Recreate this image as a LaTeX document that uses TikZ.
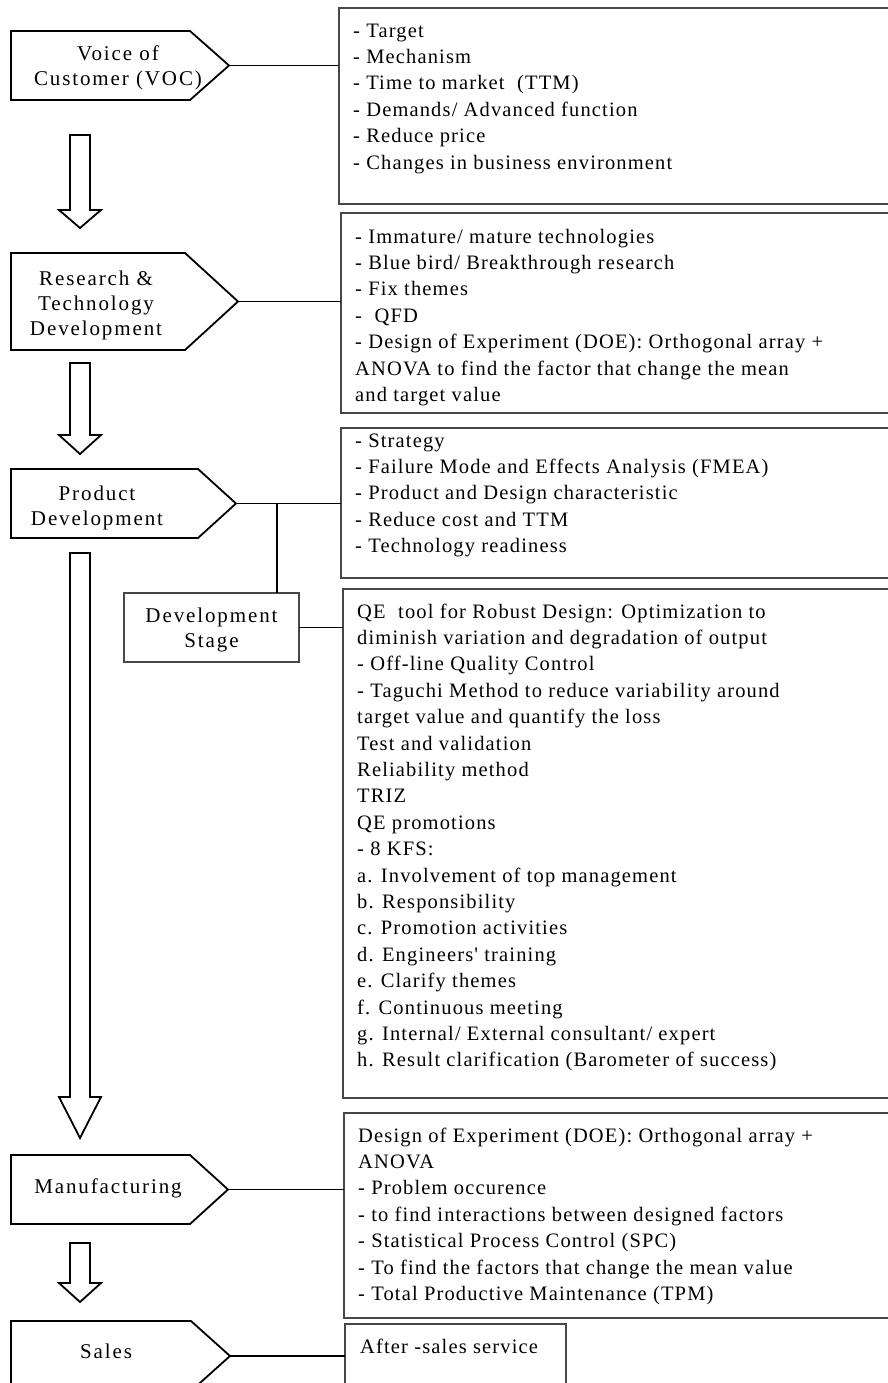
\documentclass[tikz,border=0pt]{standalone}
\usepackage{fontspec}
\setmainfont{Liberation Serif}
\newfontfamily\boxfont{Liberation Serif}[LetterSpace=5.6]
\newfontfamily\stagefont{Liberation Serif}[LetterSpace=9]
\newcommand{\infofont}{\boxfont\fontsize{20.5}{26.4}\selectfont}
\newcommand{\labelfont}{\stagefont\fontsize{21}{25}\selectfont}
\usetikzlibrary{calc}

% Text nodes start with a strut, so a node's top edge lies one strut height
% (0.7 baselineskip) above the baseline of its first line.
\tikzset{
  stageframe/.style={draw=black, line width=1.8pt, line join=miter},
  stagearea/.style={rectangle, inner sep=0, outer sep=0, anchor=north west},
  stagetext/.style={align=center, inner sep=0, anchor=north, font=\labelfont},
  infobox/.style={rectangle, draw=black!72, line width=2pt, inner sep=0, outer sep=0, anchor=north west},
  infotext/.style={align=left, inner sep=0, anchor=north west, font=\infofont},
  link/.style={draw=black, line width=1.8pt},
  flow/.style={draw=black, line width=1.8pt, line join=miter, fill=white},
}

% hollow block arrow pointing down: shaft top, head base, tip
\newcommand{\hollowdown}[3]{%
  \draw[flow] (70,#1) -- (90,#1) -- (90,#2) -- (101,#2) -- (80,#3)
    -- (59,#2) -- (70,#2) -- cycle;}

\begin{document}
\begin{tikzpicture}[x=1pt, y=-1pt]
\useasboundingbox (0,0) rectangle (888,1383);
\clip (0,0) rectangle (888,1383);

% ---------- stage pentagons ----------
\node[stagearea, minimum width=179, minimum height=69] (voc) at (11,31) {};
\coordinate (vocTip) at (229,65.5);
\draw[stageframe] (voc.north west) -- (voc.north east) -- (vocTip)
  -- (voc.south east) -- (voc.south west) -- cycle;
\node[stagetext] (vocText) at (118,42.5) {\strut Voice of\\Customer (VOC)};

\node[stagearea, minimum width=174, minimum height=97] (rtd) at (11,253) {};
\coordinate (rtdTip) at (238,301.5);
\draw[stageframe] (rtd.north west) -- (rtd.north east) -- (rtdTip)
  -- (rtd.south east) -- (rtd.south west) -- cycle;
\node[stagetext] (rtdText) at (96,267.5) {\strut Research \&\\Technology\\Development};

\node[stagearea, minimum width=187, minimum height=69] (pd) at (11,469) {};
\coordinate (pdTip) at (236,503.5);
\draw[stageframe] (pd.north west) -- (pd.north east) -- (pdTip)
  -- (pd.south east) -- (pd.south west) -- cycle;
\node[stagetext] (pdText) at (97,482.5) {\strut Product\\Development};

\node[stagearea, minimum width=179, minimum height=69] (mfg) at (11,1155) {};
\coordinate (mfgTip) at (228,1189.5);
\draw[stageframe] (mfg.north west) -- (mfg.north east) -- (mfgTip)
  -- (mfg.south east) -- (mfg.south west) -- cycle;
\node[stagetext] (mfgText) at (108,1175.5) {\strut Manufacturing};

\node[stagearea, minimum width=180, minimum height=70] (sales) at (11,1321) {};
\coordinate (salesTip) at (230,1356);
\draw[stageframe] (sales.north west) -- (sales.north east) -- (salesTip)
  -- (sales.south east) -- (sales.south west) -- cycle;
\node[stagetext] (salesText) at (106,1340.5) {\strut Sales};

% ---------- development stage box ----------
\node[infobox, minimum width=175, minimum height=69] (dev) at (124,593) {};
\node[stagetext] (devText) at (211.5,604.5) {\strut Development\\Stage};

% ---------- flow arrows ----------
\hollowdown{135}{210}{228}
\hollowdown{363}{435}{454}
\hollowdown{553}{1097}{1138}
\hollowdown{1243}{1283}{1302}

% ---------- information boxes ----------
\node[infobox, minimum width=561, minimum height=196] (b1) at (339,8) {};
\node[infotext] (t1) at (353,18.5) {\strut - Target\\- Mechanism\\- Time to market~~(TTM)\\- Demands/ Advanced function\\- Reduce price\\- Changes in business environment};

\node[infobox, minimum width=559, minimum height=200] (b2) at (341,213) {};
\node[infotext] (t2) at (355,224.5) {\strut - Immature/ mature technologies\\- Blue bird/ Breakthrough research\\- Fix themes\\-~~QFD\\- Design of Experiment (DOE): Orthogonal array +\\ANOVA to find the factor that change the mean\\and target value};

\node[infobox, minimum width=559, minimum height=150] (b3) at (341,428) {};
\node[infotext] (t3) at (355,428.5) {\strut - Strategy\\- Failure Mode and Effects Analysis (FMEA)\\- Product and Design characteristic\\- Reduce cost and TTM\\- Technology readiness};

\node[infobox, minimum width=557, minimum height=509] (b4) at (343,589) {};
\node[infotext] (t4) at (357,599.5) {\strut QE~~tool for Robust Design: Optimization to\\diminish variation and degradation of output\\- Off-line Quality Control\\- Taguchi Method to reduce variability around\\target value and quantify the loss\\Test and validation\\Reliability method\\TRIZ\\QE promotions\\- 8 KFS:\\a. Involvement of top management\\b. Responsibility\\c. Promotion activities\\d. Engineers{\char"0027} training\\e. Clarify themes\\f. Continuous meeting\\g. Internal/ External consultant/ expert\\h. Result clarification (Barometer of success)};

\node[infobox, minimum width=556, minimum height=205] (b5) at (344,1113) {};
\node[infotext] (t5) at (358,1123.5) {\strut Design of Experiment (DOE): Orthogonal array +\\ANOVA\\- Problem occurence\\- to find interactions between designed factors\\- Statistical Process Control (SPC)\\- To find the factors that change the mean value\\- Total Productive Maintenance (TPM)};

\node[infobox, minimum width=221, minimum height=80] (b6) at (345,1324) {};
\node[infotext] (t6) at (360,1334.5) {\strut After -sales service};

% ---------- connectors ----------
\draw[link] (vocTip) -- (vocTip -| b1.west);
\draw[link] (rtdTip) -- (rtdTip -| b2.west);
\draw[link] (pdTip) -- (pdTip -| b3.west);
\coordinate (pdBranch) at (277,503.5);
\draw[link] (pdBranch) -- (pdBranch |- dev.north);
\draw[link] (dev.east) -- (dev.east -| b4.west);
\draw[link] (mfgTip) -- (mfgTip -| b5.west);
\draw[link] (salesTip) -- (salesTip -| b6.west);
\end{tikzpicture}
\end{document}
